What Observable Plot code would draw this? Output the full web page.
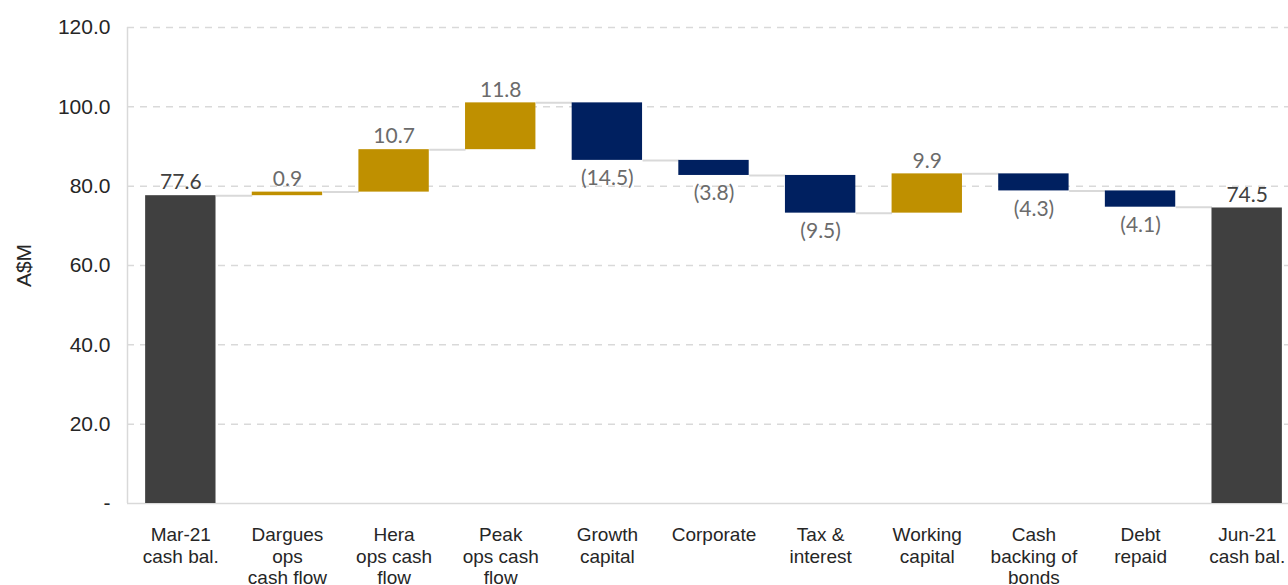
<!DOCTYPE html>
<html>
<head>
<meta charset="utf-8">
<script src="https://cdn.jsdelivr.net/npm/d3@7"></script>
<script src="https://cdn.jsdelivr.net/npm/@observablehq/plot@0.6"></script>
<style>
  html, body { margin: 0; padding: 0; background: #fff; overflow: hidden; }
  #chart svg { overflow: hidden; display: block; }
</style>
</head>
<body>
<div id="chart"></div>
<script>
const categories = [
  "Mar-21\ncash bal.", "Dargues\nops\ncash flow", "Hera\nops cash\nflow", "Peak\nops cash\nflow",
  "Growth\ncapital", "Corporate", "Tax &\ninterest", "Working\ncapital",
  "Cash\nbacking of\nbonds", "Debt\nrepaid", "Jun-21\ncash bal."
];
const values = [77.6, 0.9, 10.7, 11.8, -14.5, -3.8, -9.5, 9.9, -4.3, -4.1, 74.5];
const kinds = ["total", "up", "up", "up", "down", "down", "down", "up", "down", "down", "total"];
const yTicks = [0, 20, 40, 60, 80, 100, 120];
const yLabel = "A$M";

const colors = {total: "#404040", up: "#BF9000", down: "#002060"};
const half = 0.33;

let running = 0;
const rows = values.map((v, i) => {
  let start, end;
  if (kinds[i] === "total") { start = 0; end = v; }
  else { start = running; end = running + v; }
  running = end;
  return {i, v, kind: kinds[i], start, end, top: Math.max(start, end), bottom: Math.min(start, end)};
});
const connectors = rows.slice(0, -1).map(r => ({x1: r.i + half, x2: r.i + 1 - half, y: r.end}));

const fmt = v => v < 0 ? `(${Math.abs(v).toFixed(1)})` : v.toFixed(1);
const sans = "Liberation Sans, Arial, sans-serif";

const chart = Plot.plot({
  width: 1288,
  height: 585,
  marginTop: 27,
  marginBottom: 82,
  marginLeft: 127,
  marginRight: 0,
  x: {domain: [-0.5, 10.5], range: [127, 1300]},
  y: {domain: [0, 120], range: [503, 27]},
  marks: [
    Plot.gridY(yTicks.slice(1), {stroke: "#d9d9d9", strokeOpacity: 1, strokeWidth: 1.5, strokeDasharray: "7,6"}),
    Plot.ruleX([-0.5], {stroke: "#d9d9d9", strokeWidth: 1.5}),
    Plot.ruleY([0], {stroke: "#d9d9d9", strokeWidth: 1.5}),
    Plot.link(connectors, {x1: "x1", x2: "x2", y1: "y", y2: "y", stroke: "#d9d9d9", strokeWidth: 2}),
    Plot.rectY(rows, {
      x1: d => d.i - half, x2: d => d.i + half,
      y1: "bottom", y2: "top",
      fill: d => colors[d.kind]
    }),
    Plot.text(rows.filter(d => d.kind !== "down"), {
      x: "i", y: "top", text: d => fmt(d.v), dy: -13,
      fontFamily: "Lato", fontSize: 21,
      fill: d => d.kind === "total" ? "#404040" : "#6b6b6b",
      fontWeight: d => d.kind === "total" ? "bold" : "normal"
    }),
    Plot.text(rows.filter(d => d.kind === "down"), {
      x: "i", y: "bottom", text: d => fmt(d.v), dy: 18,
      fontFamily: "Lato", fontSize: 21, fill: "#6b6b6b"
    }),
    Plot.axisY({
      ticks: yTicks, tickFormat: v => v === 0 ? "-" : v.toFixed(1),
      tickSize: 0, tickPadding: 17,
      fontFamily: sans, fontSize: 21, color: "#262626",
      label: null
    }),
    Plot.text([yLabel], {
      frameAnchor: "left", dx: -103, rotate: -90, text: d => d, textAnchor: "middle",
      fontFamily: sans, fontSize: 21, fill: "#262626"
    }),
    Plot.axisX({
      ticks: d3.range(categories.length), tickFormat: i => categories[i],
      tickSize: 0, tickPadding: 22, lineHeight: 1.14,
      fontFamily: sans, fontSize: 19, color: "#262626",
      label: null
    })
  ],
  style: {background: "#fff", overflow: "hidden"}
});
document.getElementById("chart").append(chart);
</script>
</body>
</html>
